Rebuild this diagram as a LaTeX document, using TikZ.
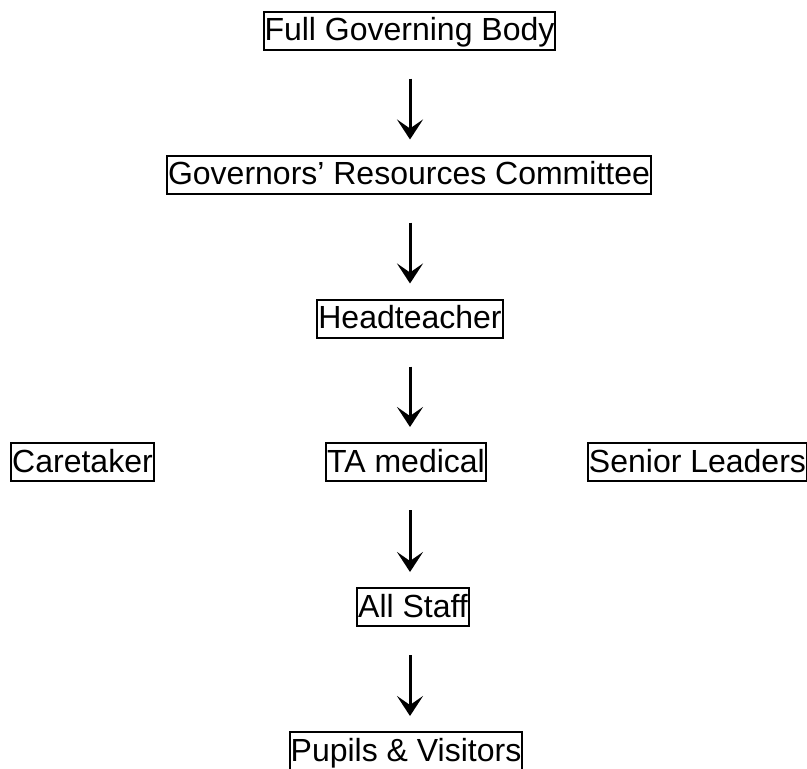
\documentclass[tikz,border=0pt]{standalone}
\usepackage{fontspec}
\setmainfont{Liberation Sans}
\usetikzlibrary{arrows.meta}
\begin{document}
\begin{tikzpicture}[x=1pt,y=-1pt,
  box/.style={draw, line width=2pt, inner xsep=1pt, inner ysep=0pt,
    text height=29pt, text depth=9pt, font=\fontsize{32}{35}\selectfont},
  arr/.style={line width=3pt, -{Stealth[length=20pt,width=26pt,inset=9pt]},
    shorten <=28pt, shorten >=15pt}]
\useasboundingbox (0,0) rectangle (807,769);
\node[box] (fgb) at (409.5,30.5) {Full Governing Body};
\node[box] (grc) at (409,174.5) {Governors’ Resources Committee};
\node[box] (head) at (410,318.5) {Headteacher};
\node[box] (care) at (82.5,462) {Caretaker};
\node[box] (ta) at (406,462) {TA medical};
\node[box] (sen) at (697.5,462) {Senior Leaders};
\node[box] (staff) at (413,607) {All Staff};
\node[box] (pup) at (406,751) {Pupils \& Visitors};
\coordinate (ax) at (410,0);
\draw[arr] (fgb.south -| ax) -- (grc.north -| ax);
\draw[arr] (grc.south -| ax) -- (head.north -| ax);
\draw[arr] (head.south -| ax) -- (ta.north -| ax);
\draw[arr] (ta.south -| ax) -- (staff.north -| ax);
\draw[arr] (staff.south -| ax) -- (pup.north -| ax);
\end{tikzpicture}
\end{document}
